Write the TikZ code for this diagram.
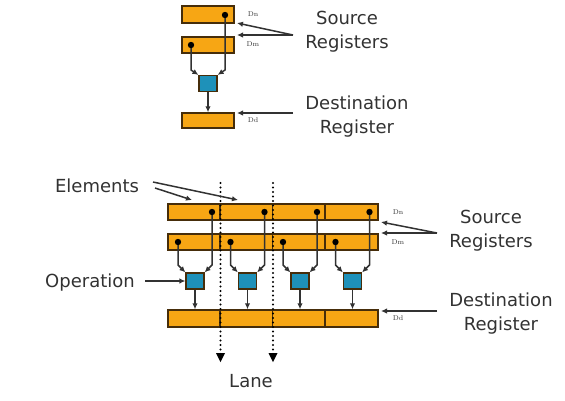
\documentclass[tikz,border=0pt]{standalone}
\usepackage{fontspec}
\setsansfont{DejaVu Sans}
\usetikzlibrary{arrows,arrows.meta}
\definecolor{regfill}{RGB}{247,166,20}
\definecolor{regline}{RGB}{70,45,10}
\definecolor{opfill}{RGB}{30,145,185}
\definecolor{wirecol}{RGB}{50,50,50}
\definecolor{txtcol}{RGB}{50,50,50}

\tikzset{
  reg/.style={draw=regline, fill=regfill, line width=1.4pt, minimum height=16pt, inner sep=0pt},
  opbox/.style={draw=regline, fill=opfill, line width=1.2pt, minimum width=18pt, minimum height=16pt, inner sep=0pt},
  wire/.style={draw=wirecol, line width=1.5pt, -{Latex[length=6pt,width=5.5pt]}},
  lane/.style={draw=black, line width=2.4pt, line cap=round, dash pattern=on 0pt off 4.5pt},
  lbl/.style={font=\sffamily\fontsize{18}{24}\selectfont, text=txtcol, align=center, inner sep=1pt},
  tag/.style={font=\fontsize{7}{8}\selectfont, text=txtcol, inner sep=0pt}
}

\begin{document}
\begin{tikzpicture}[x=1pt,y=-1pt]
        \useasboundingbox (0,0) rectangle (565,400);
        % single lane
        \node[reg, minimum width=52pt, minimum height=17pt] (tn) at (208,14.5) {};
        \node[reg, minimum width=52pt] (tm) at (208,45) {};
        \node[reg, minimum width=52pt, minimum height=15pt] (td) at (208,120.5) {};
        \node[opbox] (top) at (208,83.5) {};
        \coordinate (tdn) at (225,15);
        \coordinate (tdm) at (191,45);
        \draw[wire] (tdm) -- ++(0,25) -- (top.north west);
        \draw[wire] (tdn) -- ++(0,55) -- (top.north east);
        \draw[wire] (top.south) -- (td.north);
        \fill[black] (tdn) circle (3.2) (tdm) circle (3.2);
        \node[tag] (tagtn) at (253,14) {Dn};
        \node[tag] (tagtm) at (253,44) {Dm};
        \node[tag] (tagtd) at (253,120) {Dd};

        % vector registers
        \node[reg, minimum width=210pt] (bn) at (273,212) {};
        \node[reg, minimum width=210pt] (bm) at (273,242) {};
        \node[reg, minimum width=210pt, minimum height=17pt] (bd) at (273,318.5) {};
        \foreach \r in {bn,bm,bd} % element borders
        \foreach \k in {1,2,3}
        \draw[regline, line width=1.4pt] ([xshift={52.5pt*\k}]\r.south west) -- ([xshift={52.5pt*\k}]\r.north west);
        \node[tag] (tagbn) at (398,212) {Dn};
        \node[tag] (tagbm) at (398,242) {Dm};
        \node[tag] (tagbd) at (398,318) {Dd};

        % lanes
        \coordinate (laneA1) at (220.5,183);
        \coordinate (laneA2) at (220.5,362);
        \coordinate (laneB1) at (273,183);
        \coordinate (laneB2) at (273,362);
        \draw[lane] (laneA1) -- (laneA2);
        \draw[lane] (laneB1) -- (laneB2);
        \fill[black] (laneA2) -- ++(-4.5,-9) -- ++(9,0) -- cycle;
        \fill[black] (laneB2) -- ++(-4.5,-9) -- ++(9,0) -- cycle;

        \foreach \i in {0,1,2,3} {
        \pgfmathsetmacro\lx{168+52.5*\i}
        \node[opbox] (op\i) at (\lx+27,281) {};
        \coordinate (n\i) at (\lx+44,212);
        \coordinate (m\i) at (\lx+10,242);
        \draw[wire] (m\i) -- ++(0,23) -- (op\i.north west);
        \draw[wire] (n\i) -- ++(0,53) -- (op\i.north east);
        \draw[wire] (op\i.south) -- (op\i |- bd.north);
        \fill[black] (n\i) circle (3.2) (m\i) circle (3.2);
        }

        % labels
        \node[lbl] (srcT) at (347,32) {Source\\Registers};
        \node[lbl] (dstT) at (357,117) {Destination\\Register};
        \node[lbl] (srcB) at (491,231) {Source\\Registers};
        \node[lbl] (dstB) at (501,314) {Destination\\Register};
        \node[lbl] (elem) at (97,186) {Elements};
        \node[lbl] (oper) at (90,283) {Operation};
        \node[lbl] (lane) at (251,381) {Lane};

        \coordinate (srcTc) at (293,35);
        \coordinate (srcTa) at (237,23);
        \coordinate (srcTb) at (237,35);
        \draw[wire] (srcTc) -- (srcTa);
        \draw[wire] (srcTc) -- (srcTb);
        \coordinate (dstTc) at (293,113);
        \coordinate (dstTa) at (237,113);
        \draw[wire] (dstTc) -- (dstTa);

        \coordinate (srcBc) at (437,233);
        \coordinate (srcBa) at (381,222);
        \coordinate (srcBb) at (381,233);
        \draw[wire] (srcBc) -- (srcBa);
        \draw[wire] (srcBc) -- (srcBb);
        \coordinate (dstBc) at (437,311);
        \coordinate (dstBa) at (381,311);
        \draw[wire] (dstBc) -- (dstBa);

        \coordinate (elemA) at (153,182);
        \coordinate (elemB) at (155,188);
        \coordinate (elemA2) at (238,200);
        \coordinate (elemB2) at (192,200);
        \draw[wire] (elemA) -- (elemA2);
        \draw[wire] (elemB) -- (elemB2);
        \coordinate (operc) at (145,281);
        \draw[wire] (operc) -- (op0.west);
\end{tikzpicture}
\end{document}
